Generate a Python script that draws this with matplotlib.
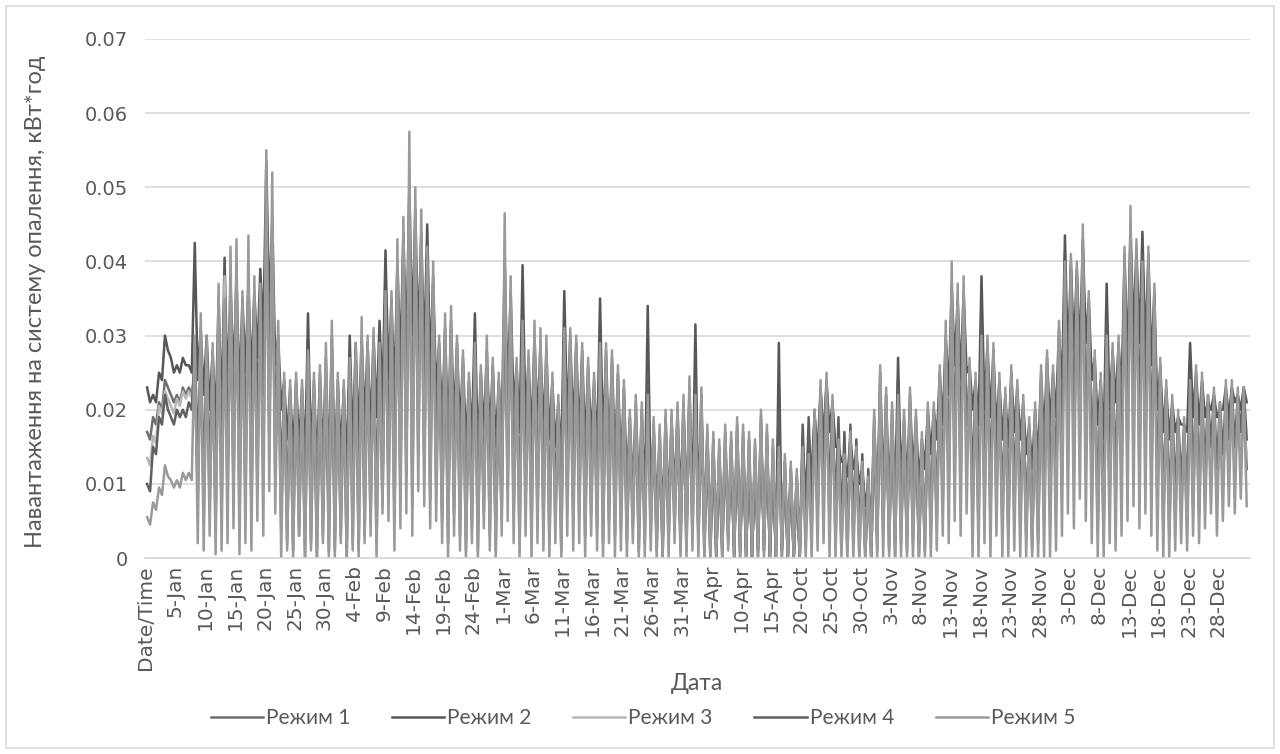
import matplotlib
matplotlib.use("Agg")
import matplotlib.pyplot as plt
import numpy as np

# daily peak / trough of hourly heating load, in 1e-3 kWh
r1_peak = [17,19,21,24,22,22,23,23,25,28, 27,26,31,34,35,37,33,37,34,36,
           47,44,29,23,22,23,22,28,23,24, 25,28,23,22,27,27,29,28,28,29,
           36,33,39,42,49,45,43,42,37,28, 30,31,28,26,23,29,24,27,25,23,
           38,34,25,32,26,29,28,27,23,20, 31,29,28,27,25,23,30,27,26,24,
           22,18,20,19,26,17,16,18,18,19, 20,22,25,21,16,15,14,16,15,17,
           16,15,14,18,16,14,22,13,12,11, 16,17,19,23,24,21,17,15,17,15,
           13,11,18,23,21,19,24,18,21,18, 15,19,19,23,29,36,34,35,25,23,
           34,28,27,23,21,24,22,20,17,19, 24,26,24,29,41,39,38,42,34,26,
           23,33,27,28,39,44,41,42,40,35, 25,22,20,18,17,26,22,21,20,20,
           19,20,21,20,21]
r1_low = [16,18,20,23,21,21,22,22,8,5, 7,4,6,8,9,5,8,6,10,12,
          16,11,4,2,1,3,0,2,0,3, 1,1,3,0,2,1,3,5,2,7,
          9,5,9,11,7,14,12,8,10,5, 2,6,3,1,4,1,6,3,1,5,
          9,6,2,7,3,6,4,2,5,1, 7,5,6,3,6,4,2,5,3,4,
          2,4,1,2,3,1,0,2,4,1, 1,3,2,0,0,0,0,2,0,0,
          0,0,0,1,0,0,0,0,0,0, 3,5,6,8,5,3,2,1,3,1,
          0,0,1,3,1,0,2,1,2,0, 1,3,5,7,9,12,10,13,6,4,
          7,5,8,4,3,6,4,3,1,2, 5,7,8,10,14,12,16,13,9,4,
          3,8,7,10,13,16,12,14,10,7, 4,3,5,6,4,7,6,8,10,8,
          10,12,11,13,12]

r2_peak = [23,22,25,30,27,26,27,26,42.5,31, 30,28,35,40.5,37,38,35,37,36,39,
           53.5,46,30,24,23,24,23,33,24,25, 27,30,24,23,30,29,30,29,30,32,
           41.5,35,40,44,50,47,44,45,38,29, 31,32,29,27,24,33,25,28,26,24,
           40,36,26,39.5,27,30,29,28,24,21, 36,30,29,28,26,24,35,28,27,25,
           23,19,21,20,34,18,17,19,19,20, 21,23,31.5,22,17,16,15,17,16,18,
           17,16,15,19,17,15,29,13,12,11, 14,13,19,23,24,21,15,13,16,14,
           12,10,19,25,22,20,27,19,22,19, 16,20,20,25,30,37,35,36,26,24,
           38,29,28,24,22,25,23,21,18,20, 25,27,25,31,43.5,40,39,43,35,27,
           24,37,28,29,41,45,42,44,41,36, 26,23,21,19,18,29,25,24,21,22,
           20,23,23,22,23]
r2_low = [21,21,24,28,25,25,26,25,24,22, 20,18,19,22,24,22,25,24,27,30,
          33,26,20,16,14,15,13,14,12,13, 11,12,14,12,15,16,18,17,19,21,
          24,22,26,28,30,29,27,25,22,18, 16,18,17,15,16,14,17,16,15,17,
          22,20,17,18,16,18,17,16,15,13, 18,17,16,15,16,14,15,14,13,12,
          10,9,8,7,8,6,5,6,8,7, 6,7,5,4,3,2,3,4,3,2,
          1,0,2,1,0,0,1,0,0,0, 10,12,14,16,17,15,13,11,12,10,
          7,4,6,9,8,7,10,9,11,10, 12,14,16,18,22,26,24,25,20,18,
          20,19,17,16,15,17,16,14,12,13, 16,18,19,22,26,28,27,29,24,18,
          16,20,21,22,26,30,29,28,26,20, 17,16,17,18,17,19,18,19,20,19,
          20,19,21,20,21]

r3_peak = [13.5,16.5,20.5,22.5,20.5,21.5,22.5,22.5,26,31, 28,27,33,38,36,40,34,38,36,35,
           42,44,30,23,22,23,22,27,23,24, 26,29,23,22,26,27,30,28,29,28,
           33,34,40,42,47,44,42,40,36,28, 31,32,28,26,23,27,24,28,25,23,
           38,34,25,30,26,30,29,28,23,20, 29,29,28,27,25,23,27,27,26,24,
           22,18,20,19,20,17,16,18,18,19, 20,22,20,21,16,15,14,16,15,17,
           16,15,14,18,16,14,13,12,11,10, 13,12,18,22,23,20,14,12,15,13,
           11,9,18,24,21,19,20,18,21,18, 15,19,19,24,29,36,34,35,25,23,
           28,28,27,23,21,24,22,20,17,19, 24,26,24,30,37,38,37,41,33,26,
           23,28,27,28,38,43,39,37,38,34, 25,22,20,18,17,21,21,20,18,19,
           18,19,19,19,18]
r3_low = [12.5,15.5,19.5,21.5,19.5,20.5,21.5,21.5,12,8, 10,7,9,12,13,8,11,9,14,16,
          22,16,7,5,3,6,2,5,3,6, 3,4,6,2,5,3,6,8,4,10,
          12,8,12,14,10,18,15,12,14,8, 4,9,6,3,7,4,9,6,3,8,
          12,9,5,10,6,9,7,5,8,4, 10,8,9,6,9,7,5,8,6,7,
          4,7,3,4,6,3,2,4,6,3, 3,6,4,2,1,0,2,4,1,2,
          1,0,2,3,1,0,2,0,0,0, 2,3,5,7,4,2,1,0,2,0,
          0,0,2,4,2,1,3,2,3,1, 2,4,6,9,11,14,12,15,8,6,
          9,7,10,6,5,8,6,5,3,4, 7,9,10,12,16,14,18,15,11,6,
          5,10,9,12,15,18,14,16,12,9, 6,5,7,8,6,9,8,11,13,10,
          12,14,13,15,14]

r4_peak = [10,15,19,22,19,20,20,21,28,26, 26,25,30,33,34,35,32,36,35,37,
           45,42,28,22,21,22,21,26,22,23, 24,27,22,21,26,26,28,27,28,29,
           35,33,38,41,45,43,41,41,35,27, 29,30,27,25,22,28,23,26,24,22,
           36,33,24,31,25,27,27,26,22,19, 30,28,27,26,24,22,29,26,25,23,
           21,17,19,18,25,16,15,17,17,18, 19,21,24,20,15,14,13,15,14,16,
           15,14,13,17,15,13,20,12,11,10, 18,19,20,22,23,21,19,17,18,16,
           14,12,17,22,20,18,23,17,20,17, 14,18,18,22,28,34,33,34,24,22,
           32,27,26,22,20,23,21,19,16,18, 23,25,23,28,39,38,37,40,33,25,
           22,32,26,27,37,42,40,41,39,33, 24,21,20,19,18,25,23,22,22,22,
           21,22,23,22,23]
r4_low = [9,14,18,20,18,19,19,20,15,12, 13,11,13,15,16,14,17,15,19,22,
          26,19,11,8,6,8,5,7,5,7, 5,6,8,5,8,7,9,10,8,12,
          15,12,16,19,17,22,19,16,16,11, 7,11,9,6,9,6,10,8,5,9,
          14,11,7,12,8,10,9,7,9,5, 11,9,10,7,10,8,6,9,7,8,
          5,7,4,5,6,3,2,4,6,3, 3,5,3,2,1,0,1,3,0,1,
          0,0,1,2,0,0,1,0,0,0, 5,7,9,11,8,6,4,3,5,3,
          1,0,3,5,3,2,4,3,4,2, 4,6,8,11,13,17,15,18,11,9,
          12,10,12,8,7,10,8,7,5,6, 9,11,12,15,19,18,21,18,14,8,
          7,12,11,14,18,21,17,19,15,11, 8,7,9,10,8,11,10,12,15,12,
          14,16,15,17,16]

r5_peak = [5.5,7.5,9.5,12.5,10.5,10.5,11.5,11.5,30,33, 30,29,37,35,42,43,36,43.5,38,37,
           55,52,32,25,24,25,24,28,25,26, 29,32,25,24,27,29,32.5,30,31,29,
           36,36,43,46,57.5,50,47,42,40,30, 33,34,30,28,25,29,26,30,27,25,
           46.5,38,27,32,28,32,31,30,25,22, 31,31,30,29,27,25,29,29,28,26,
           24,20,22,21,22,19,18,20,20,21, 22,24.5,22,23,18,17,16,18,17,19,
           18,17,16,20,18,16,15,14,13,12, 15,14,20,24,25,22,16,14,17,15,
           13,11,20,26,23,21,22,20,23,20, 17,21,21,26,32,40,37,38,27,25,
           30,30,29,25,23,26,24,22,19,21, 26,28,26,32,40,41,40,45,36,28,
           25,30,29,30,42,47.5,43,40,42,37, 27,24,22,20,19,24,26,25,22,23,
           21,24,24,23,23]
r5_low = [4.5,6.5,8.5,11,9.5,9.5,10.5,10.5,2,1, 3,0.5,1,2,4,0.5,2,1,5,3,
          9,6,0,1,0,3,0,1,0,2, 0,0,2,0,1,0,2,3,0,6,
          5,1,4,6,3,9,7,4,5,2, 0,3,1,0,2,0,4,1,0,3,
          5,2,0,3,0,2,1,0,2,0, 3,1,2,0,3,1,0,2,0,1,
          0,2,0,0,1,0,0,0,2,0, 0,1,0,0,0,0,0,1,0,0,
          0,0,0,0,0,0,0,0,0,0, 0,0,1,2,0,0,0,0,0,0,
          0,0,0,0,0,0,0,0,0,0, 0,0,1,3,2,5,3,6,0,0,
          2,0,3,0,0,1,0,0,0,0, 0,0,1,3,6,4,8,5,2,0,
          0,2,1,3,5,7,4,6,3,1, 0,0,1,2,1,3,2,4,6,3,
          5,7,6,8,7]

series_names = ["Режим 1", "Режим 2", "Режим 3", "Режим 4", "Режим 5"]
tick_labels = ["Date/Time", "5-Jan", "10-Jan", "15-Jan", "20-Jan", "25-Jan", "30-Jan",
               "4-Feb", "9-Feb", "14-Feb", "19-Feb", "24-Feb", "1-Mar", "6-Mar",
               "11-Mar", "16-Mar", "21-Mar", "26-Mar", "31-Mar", "5-Apr", "10-Apr",
               "15-Apr", "20-Oct", "25-Oct", "30-Oct", "3-Nov", "8-Nov", "13-Nov",
               "18-Nov", "23-Nov", "28-Nov", "3-Dec", "8-Dec", "13-Dec", "18-Dec",
               "23-Dec", "28-Dec"]

colors = ["#6d6d6d", "#575757", "#b8b8b8", "#606060", "#9a9a9a"]
peaks = [r1_peak, r2_peak, r3_peak, r4_peak, r5_peak]
lows = [r1_low, r2_low, r3_low, r4_low, r5_low]

text_col = "#595959"
fig = plt.figure(figsize=(12.8, 7.54), dpi=100)
ax = fig.add_axes([145/1280, 1 - 558/754, 1105/1280, 519/754])

for name, col, pk, lo in zip(series_names, colors, peaks, lows):
    pk = np.array(pk) / 1000
    lo = np.array(lo) / 1000
    days = np.arange(len(pk))
    # one peak and one trough per day
    x = np.column_stack([days + 0.25, days + 0.75]).ravel()
    y = np.column_stack([pk, lo]).ravel()
    ax.plot(x, y, color=col, lw=1.8, label=name)

ax.set_ylim(0, 0.07)
ax.set_xlim(-0.1, 185.3)
ax.set_yticks(np.arange(0, 0.071, 0.01))
ax.set_yticklabels(["0"] + ["%.2f" % v for v in np.arange(0.01, 0.071, 0.01)],
                   fontsize=14, color=text_col, family=["DejaVu Sans"])
ax.set_xticks(np.arange(len(tick_labels)) * 5)
ax.set_xticklabels(tick_labels, rotation=90, fontsize=14.5, color=text_col,
                   family=["Liberation Sans Narrow", "DejaVu Sans"])
ax.tick_params(axis="x", length=0, pad=5)
ax.tick_params(axis="y", length=0, pad=12)
ax.grid(axis="y", color="#d9d9d9", lw=1.2)
ax.set_axisbelow(True)
for s in ["top", "right", "left"]:
    ax.spines[s].set_visible(False)
ax.spines["bottom"].set_color("#d9d9d9")
ax.spines["bottom"].set_linewidth(1.2)

fig.text(36/1280, 1 - 302/754, "Навантаження на систему опалення, кВт*год",
         rotation=90, ha="center", va="center", fontsize=17, color=text_col,
         family=["Lato", "DejaVu Sans"])
fig.text(697/1280, 1 - 683/754, "Дата", ha="center", va="center", fontsize=16.5,
         color=text_col, family=["Lato", "DejaVu Sans"])

leg = fig.legend(loc="center", bbox_to_anchor=(643/1280, 1 - 718/754), ncol=5,
                 frameon=False, handlelength=2.5, handletextpad=0.15,
                 columnspacing=2.0,
                 prop={"family": ["Lato", "DejaVu Sans"], "size": 15})
for t in leg.get_texts():
    t.set_color(text_col)

fig.patches.append(plt.Rectangle((6/1280, 6/754), 1268/1280, 742/754,
                                 transform=fig.transFigure, fill=False,
                                 edgecolor="#d9d9d9", lw=1.2))

fig.savefig("out.png", dpi=100, facecolor="white")
